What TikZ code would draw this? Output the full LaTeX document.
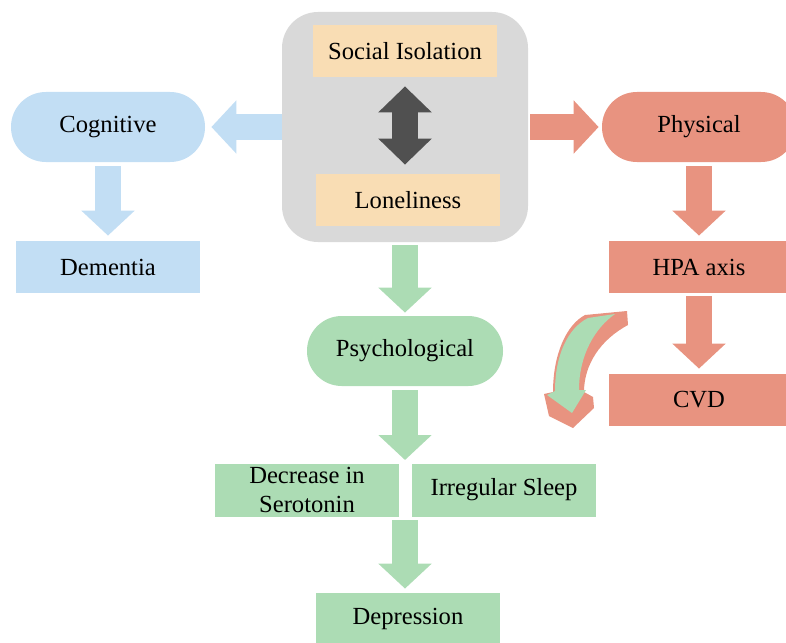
\documentclass[tikz,border=0pt]{standalone}
\usepackage{fontspec}
\setmainfont{Liberation Serif}
\usetikzlibrary{arrows.meta}
\definecolor{cogblue}{RGB}{194,222,244}
\definecolor{physred}{RGB}{232,147,128}
\definecolor{psygreen}{RGB}{172,220,180}
\definecolor{corepeach}{RGB}{249,221,180}
\definecolor{coregray}{RGB}{217,217,217}
\definecolor{twoway}{RGB}{80,80,80}
\tikzset{
	box/.style={rectangle, minimum width=92pt, minimum height=26pt, inner sep=1pt, align=center},
	pill/.style={rectangle, rounded corners=17.4pt, minimum width=97pt, minimum height=35pt},
	blockarrow/.style={line width=13pt, -{Triangle[width=26pt, length=12.5pt]}},
}
\begin{document}
	\begin{tikzpicture}[x=0.5pt, y=-0.5pt, font=\rmfamily\fontsize{12.3}{13}\selectfont]
		\clip (0, 0) rectangle (786, 642);
		\node[rectangle, rounded corners=18pt, fill=coregray, minimum width=123pt, minimum height=115pt] (core) at (405, 127) {};
		\node[box, fill=corepeach] (soc) at (405, 51) {Social Isolation};
		\node[box, fill=corepeach] (lone) at (408, 200) {Loneliness};
		\node[pill, fill=cogblue] (cog) at (108, 127) {Cognitive};
		\node[pill, fill=physred] (phys) at (699, 127) {Physical};
		\node[pill, fill=psygreen, minimum width=98pt] (psy) at (405, 351) {Psychological};
		\node[box, fill=cogblue] (dem) at (108, 267) {Dementia};
		\node[box, fill=physred, minimum width=90pt] (hpa) at (699, 267) {HPA axis};
		\node[box, fill=physred, minimum width=90pt] (cvd) at (699, 400) {CVD};
		\node[box, fill=psygreen, minimum height=26.5pt, font=\rmfamily\fontsize{12.3}{14.5}\selectfont] (ser) at (307, 490) {Decrease in\\Serotonin};
		\node[box, fill=psygreen, minimum height=26.5pt] (slp) at (504, 490) {Irregular Sleep};
		\node[box, fill=psygreen] (dep) at (408, 619) {Depression};
		\coordinate (split) at (405, 465);
		\coordinate (join) at (405, 518);
		\draw[blockarrow, twoway, {Triangle[width=26pt, length=13pt]}-{Triangle[width=26pt, length=13pt]}, shorten <=4.5pt, shorten >=4.5pt] (soc.south) -- (soc.south |- lone.north);
		\draw[blockarrow, cogblue, shorten >=3pt] (core.west) -- (cog.east);
		\draw[blockarrow, physred, shorten <=1pt, shorten >=1.5pt] (core.east) -- (phys.west);
		\draw[blockarrow, psygreen, shorten <=1.5pt, shorten >=1.5pt] (core.south) -- (psy.north);
		\draw[blockarrow, cogblue, shorten <=2pt, shorten >=2.5pt] (cog.south) -- (dem.north);
		\draw[blockarrow, physred, shorten <=2pt, shorten >=2.5pt] (phys.south) -- (hpa.north);
		\draw[blockarrow, physred, shorten <=1.5pt, shorten >=2.5pt] (hpa.south) -- (cvd.north);
		\draw[blockarrow, psygreen, shorten <=2pt, shorten >=2.5pt] (psy.south) -- (split);
		\draw[blockarrow, psygreen, shorten <=1pt, shorten >=2pt] (join) -- (join |- dep.north);
		\fill[physred] (585, 315) -- (627, 311) -- (628, 325) .. controls (600, 340) and (584, 365) .. (584, 392) -- (593, 397) -- (594, 408) -- (573, 428) -- (549, 416) -- (544, 394) -- (553, 392) .. controls (553, 355) and (566, 325) .. (585, 315) -- cycle;
		\fill[psygreen] (588, 318) -- (615, 314) .. controls (595, 328) and (579, 355) .. (579, 390) -- (586, 390) -- (572, 413) -- (547, 395) -- (555, 391) .. controls (555, 355) and (568, 328) .. (588, 318) -- cycle;
	\end{tikzpicture}
\end{document}
